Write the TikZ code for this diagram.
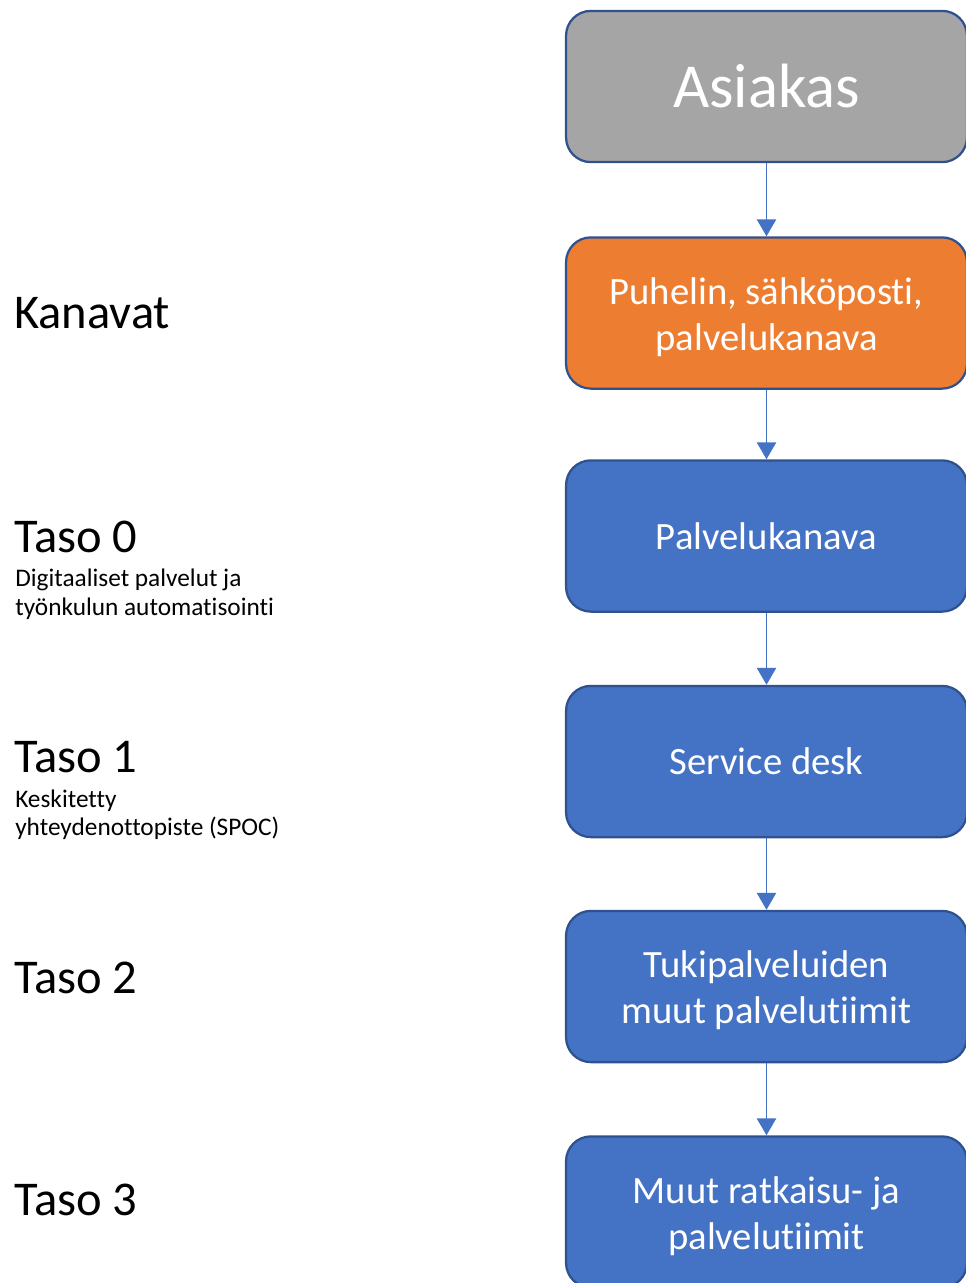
\documentclass[tikz,border=0pt]{standalone}
\usepackage{fontspec}
\setmainfont{Carlito}[Ligatures=CommonOff]
\usetikzlibrary{arrows.meta}
\definecolor{boxblue}{HTML}{4472C4}
\definecolor{boxedge}{HTML}{2F528F}
\definecolor{boxgray}{HTML}{A5A5A5}
\definecolor{boxorange}{HTML}{ED7D31}
\newcommand{\ekarivi}{\rule{0pt}{24.7pt}}
\tikzset{
  box/.style={draw=boxedge, line width=1.6pt, rounded corners=0.62cm, fill=boxblue,
    minimum width=10.02cm, minimum height=3.78cm, text=white, align=center,
    font=\fontsize{27.5}{32.7}\selectfont},
  flow/.style={draw=boxblue, line width=1pt, -{Triangle[length=0.42cm,width=0.48cm]}},
  level/.style={anchor=base west, inner sep=0pt, font=\fontsize{34.5}{40}\selectfont},
  note/.style={anchor=base west, inner sep=0pt, align=left, font=\fontsize{18}{20.6}\selectfont}
}
\begin{document}
\begin{tikzpicture}[x=0.025cm,y=-0.025cm]
    \useasboundingbox (0,0) rectangle (966,1283);
    % laatikot
    \node[box, fill=boxgray, font=\fontsize{44.5}{50}\selectfont] (asiakas) at (766.5,86.5) {Asiakas};
    \node[box, fill=boxorange] (kanava) at (766.5,313) {\ekarivi Puhelin, sähköposti,\\palvelukanava};
    \node[box] (taso0) at (766.5,536) {Palvelukanava};
    \node[box] (taso1) at (766.5,761.5) {Service desk};
    \node[box] (taso2) at (766.5,986.5) {\ekarivi Tukipalveluiden\\muut palvelutiimit};
    \node[box] (taso3) at (766.5,1212) {\ekarivi Muut ratkaisu- ja\\palvelutiimit};
    % nuolet
    \draw[flow] (asiakas) -- (kanava);
    \draw[flow] (kanava) -- (taso0);
    \draw[flow] (taso0) -- (taso1);
    \draw[flow] (taso1) -- (taso2);
    \draw[flow] (taso2) -- (taso3);
    % tasot vasemmalla
    \node[level] (lkanavat) at (14,328) {Kanavat};
    \node[level] (ltaso0) at (14,552) {Taso 0};
    \node[note] (ntaso0a) at (15,586) {Digitaaliset palvelut ja};
    \node[note] (ntaso0b) at (15,615) {työnkulun automatisointi};
    \node[level] (ltaso1) at (14,772) {Taso 1};
    \node[note] (ntaso1a) at (15,807) {Keskitetty};
    \node[note] (ntaso1b) at (15,835) {yhteydenottopiste (SPOC)};
    \node[level] (ltaso2) at (14,993) {Taso 2};
    \node[level] (ltaso3) at (14,1215) {Taso 3};
\end{tikzpicture}
\end{document}
